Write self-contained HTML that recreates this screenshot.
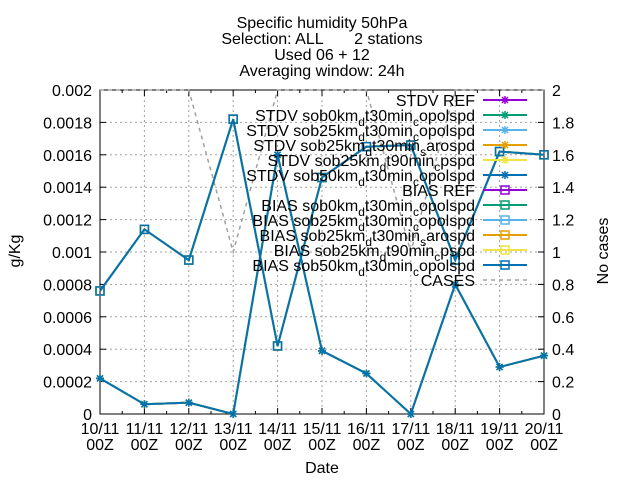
<!DOCTYPE html>
<html><head><meta charset="utf-8"><style>
body{margin:0;background:#fff}
svg{font-family:"Liberation Sans",sans-serif;}
</style></head><body>
<svg id="c" width="640" height="480" xmlns="http://www.w3.org/2000/svg"></svg>
<script>
const categories=["10/11","11/11","12/11","13/11","14/11","15/11","16/11","17/11","18/11","19/11","20/11"];
const biasValues=[0.00076,0.00114,0.00095,0.00182,0.00042,0.00146,0.00165,0.00166,0.00095,0.00162,0.0016];
const stdvValues=[0.00022,0.00006,0.00007,0.0,0.0016,0.00039,0.00025,0.0,0.0008,0.00029,0.00036];
const casesValues=[2,2,2,1,2,2,2,1,2,2,2];
const yTicks=[0,0.0002,0.0004,0.0006,0.0008,0.001,0.0012,0.0014,0.0016,0.0018,0.002];
const yTickLabels=["0","0.0002","0.0004","0.0006","0.0008","0.001","0.0012","0.0014","0.0016","0.0018","0.002"];
const y2Ticks=[0,0.2,0.4,0.6,0.8,1,1.2,1.4,1.6,1.8,2];
const y2TickLabels=["0","0.2","0.4","0.6","0.8","1","1.2","1.4","1.6","1.8","2"];
const seriesColors=["#9400d3","#009e73","#56b4e9","#e69f00","#f0e442","#0072b2"];
const seriesNames=["REF","sob0km|d|t30min|c|opolspd","sob25km|d|t30min|c|opolspd","sob25km|d|t30min|s|arospd","sob25km|d|t90min|c|pspd","sob50km|d|t30min|c|opolspd"];

const L=100,R=544,T=90,B=414;
const svg=document.getElementById('c');
const NS="http://www.w3.org/2000/svg";
function X(i){return L+(R-L)*i/(categories.length-1);}
function Y(v){return B-(B-T)*v/0.002;}
function Y2(v){return B-(B-T)*v/2;}
function mk(t,a,p){const e=document.createElementNS(NS,t);for(const k in a)e.setAttribute(k,a[k]);(p||svg).appendChild(e);return e;}

const titles=["Specific humidity 50hPa","Selection: ALL       2 stations","Used 06 + 12","Averaging window: 24h"];
titles.forEach((s,i)=>{const t=mk('text',{x:322,y:28+i*16,'text-anchor':'middle','font-size':16,style:'white-space:pre'});t.textContent=s;

});

yTicks.forEach((v,i)=>{if(i>0&&i<yTicks.length-1){const g=mk('line',{x1:L,x2:R,y1:Y(v),y2:Y(v),stroke:'#a0a0a0','stroke-dasharray':'2,3','stroke-width':1});

}});
categories.forEach((c,i)=>{if(i>0&&i<categories.length-1){const g=mk('line',{x1:X(i),x2:X(i),y1:T,y2:B,stroke:'#a0a0a0','stroke-dasharray':'2,3','stroke-width':1});

}});

const fr=mk('rect',{x:L,y:T,width:R-L,height:B-T,fill:'none',stroke:'#000','stroke-width':1});



yTicks.forEach((v,i)=>{mk('line',{x1:L,x2:L+6,y1:Y(v),y2:Y(v),stroke:'#000'});
const t=mk('text',{x:92,y:Y(v)+6,'text-anchor':'end','font-size':16});t.textContent=yTickLabels[i];

});
y2Ticks.forEach((v,i)=>{mk('line',{x1:R-6,x2:R,y1:Y2(v),y2:Y2(v),stroke:'#000'});
const t=mk('text',{x:552,y:Y2(v)+6,'font-size':16});t.textContent=y2TickLabels[i];

});
categories.forEach((c,i)=>{mk('line',{x1:X(i),x2:X(i),y1:B,y2:B-6,stroke:'#000'});mk('line',{x1:X(i),x2:X(i),y1:T,y2:T+6,stroke:'#000'});
if(i<categories.length-1){const m=(X(i)+X(i+1))/2;mk('line',{x1:m,x2:m,y1:B,y2:B-3,stroke:'#000'});mk('line',{x1:m,x2:m,y1:T,y2:T+3,stroke:'#000'});}
const t=mk('text',{x:X(i),y:434,'text-anchor':'middle','font-size':16});t.textContent=c;


const t2=mk('text',{x:X(i),y:450,'text-anchor':'middle','font-size':16});t2.textContent="00Z";

});

let a=mk('text',{x:0,y:0,'text-anchor':'middle','font-size':16,transform:'translate(20,251) rotate(-90)'});a.textContent="g/Kg";

a=mk('text',{x:0,y:0,'text-anchor':'middle','font-size':16,transform:'translate(608,251) rotate(-90)'});a.textContent="No cases";

a=mk('text',{x:322,y:473,'text-anchor':'middle','font-size':16});a.textContent="Date";


const cp=mk('polyline',{points:casesValues.map((v,i)=>X(i)+','+Math.max(T,Y2(v))).join(' '),fill:'none',stroke:'#a0a0a0','stroke-width':1.5,'stroke-dasharray':'4,4'});



function star(x,y,col,g){mk('path',{d:`M${x-4},${y}H${x+4}M${x},${y-4}V${y+4}M${x-3},${y-3}L${x+3},${y+3}M${x-3},${y+3}L${x+3},${y-3}`,stroke:col,'stroke-width':1.5,fill:'none'},g);}
function sq(x,y,col,g){mk('rect',{x:x-4,y:y-4,width:8,height:8,fill:'none',stroke:col,'stroke-width':1.5},g);}

seriesColors.forEach((col,s)=>{
 const g1=mk('g',{});
 mk('polyline',{points:stdvValues.map((v,i)=>X(i)+','+Y(v)).join(' '),fill:'none',stroke:col,'stroke-width':2},g1);
 stdvValues.forEach((v,i)=>star(X(i),Y(v),col,g1));
 const g2=mk('g',{});
 mk('polyline',{points:biasValues.map((v,i)=>X(i)+','+Y(v)).join(' '),fill:'none',stroke:col,'stroke-width':2},g2);
 biasValues.forEach((v,i)=>sq(X(i),Y(v),col,g2));
});

function legText(y,prefix,name){
 const t=mk('text',{x:475,y:y+6,'text-anchor':'end','font-size':16});
 
 const parts=name.split('|');
 const s0=mk('tspan',{},t);s0.textContent=prefix+" "+parts[0];
 for(let k=1;k<parts.length;k+=2){
  const sb=mk('tspan',{'font-size':12,dy:5},t);sb.textContent=parts[k];
  const sn=mk('tspan',{dy:-5},t);sn.textContent=parts[k+1]||"";
 }
}
let ly=100;
["STDV","BIAS"].forEach((pre,pi)=>{
 seriesColors.forEach((col,s)=>{
  legText(ly,pre,seriesNames[s]);
  const g=mk('g',{});
  mk('line',{x1:483,x2:527,y1:ly,y2:ly,stroke:col,'stroke-width':2},g);
  if(pi==0)star(505,ly,col,g);else sq(505,ly,col,g);
  ly+=15;
 });
});
const ct=mk('text',{x:475,y:ly+6,'text-anchor':'end','font-size':16});ct.textContent="CASES";

const cl=mk('line',{x1:483,x2:527,y1:ly,y2:ly,stroke:'#a0a0a0','stroke-width':1.5,'stroke-dasharray':'4,4'});

</script>
</body></html>
